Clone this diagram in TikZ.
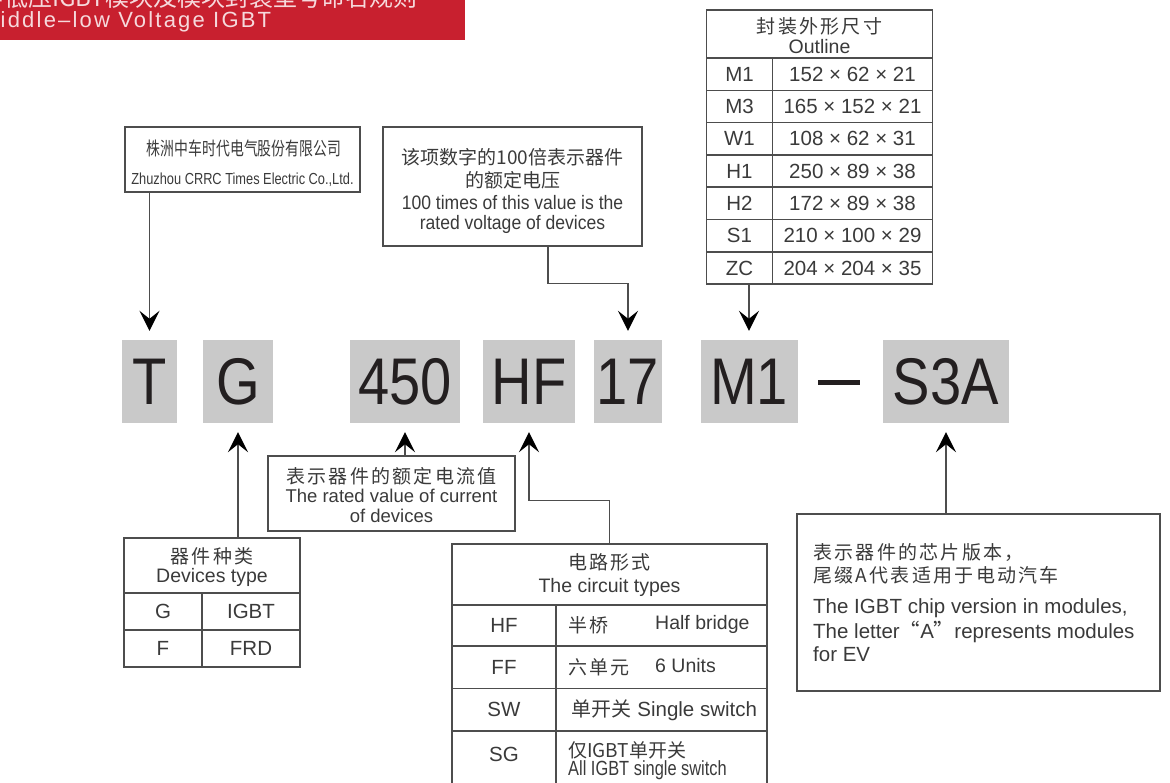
\documentclass[tikz,border=0pt]{standalone}
\usepackage{fontspec}
\setmainfont{Liberation Sans}
\newfontfamily\cjk{Noto Sans CJK SC}
\newfontfamily\cjknarrow[FakeStretch=0.75]{Noto Sans CJK SC}
\newfontfamily\cjksp[LetterSpace=12]{Noto Sans CJK SC}
\newfontfamily\narrowf[FakeStretch=0.8]{Liberation Sans}
\newfontfamily\semif[FakeStretch=0.9]{Liberation Sans}
\newfontfamily\codef[FakeStretch=0.85]{Liberation Sans}
\newfontfamily\bannerf[LetterSpace=10]{Liberation Sans}
\newfontfamily\bannercjk{Noto Sans CJK SC}
\newcommand\fsz[1]{\fontsize{#1}{#1}\selectfont}
\usetikzlibrary{arrows.meta}
\definecolor{bannerred}{HTML}{C8202F}
\definecolor{bannertxt}{HTML}{F6D9DC}
\definecolor{codegray}{HTML}{C9C9C9}
\definecolor{linec}{HTML}{4D4D4D}
\definecolor{txt}{HTML}{3A3A3A}
\definecolor{codetxt}{HTML}{231F20}
\begin{document}
\begin{tikzpicture}[x=1pt,y=-1pt,
  cell/.style={draw=linec, line width=1.5pt, inner sep=0pt, text=txt, align=center},
  lbl/.style={inner sep=0pt, text=txt, align=center},
  codebox/.style={fill=codegray, text=codetxt, inner sep=0pt, font=\codef\fsz{66}, minimum height=83pt},
  arr/.style={draw=linec, line width=1.5pt, shorten >=9pt,
    -{Stealth[length=20pt, width=20pt, inset=8pt, color=black]}},
  rowf/.style={font=\fsz{20.5}},
  headcn/.style={lbl, font=\cjksp\fsz{19}},
  headen/.style={lbl, font=\fsz{19.5}}]
\useasboundingbox (0,0) rectangle (1170,783);
\clip (0,0) rectangle (1170,783);

% banner
\node[fill=bannerred, minimum width=465pt, minimum height=40pt, inner sep=0pt, anchor=north west] (banner) at (0,0) {};
\node[inner sep=0pt, anchor=base west, text=bannertxt, font=\bannercjk\fsz{24}] (bt1) at (-20,7) {中低压IGBT模块及模块封装型号命名规则};
\node[inner sep=0pt, anchor=base west, text=bannertxt, font=\bannerf\fsz{22}] (bt2) at (-20,28) {Middle–low Voltage IGBT};

% code boxes
\node[codebox, minimum width=55pt] (T) at (149.5,381.5) {T};
\node[codebox, minimum width=70pt] (G) at (238,381.5) {G};
\node[codebox, minimum width=110pt] (n450) at (405,381.5) {450};
\node[codebox, minimum width=92pt] (HF) at (529,381.5) {HF};
\node[codebox, minimum width=68pt] (n17) at (628,381.5) {17};
\node[codebox, minimum width=97pt] (M1) at (749,381.5) {M1};
\node[fill=codetxt, minimum width=42pt, minimum height=5pt, inner sep=0pt] (dash) at (839,383) {};
\node[codebox, minimum width=126pt] (S3A) at (946,381.5) {S3A};

% company box
\node[cell, minimum width=235pt, minimum height=65pt] (comp) at (242.5,159.5) {};
\node[lbl, font=\cjknarrow\fsz{18.5}] (compcn) at (244,148) {株洲中车时代电气股份有限公司};
\node[lbl, font=\narrowf\fsz{16}] (compen) at (242.5,180) {Zhuzhou CRRC Times Electric Co.,Ltd.};
\draw[arr] (comp.south -| T.north) -- (T.north);

% voltage box
\node[cell, minimum width=259pt, minimum height=119pt] (volt) at (512.5,186.5) {};
\node[lbl, font=\cjk\fsz{19}] (voltcn1) at (512.5,157) {该项数字的100倍表示器件};
\node[lbl, font=\cjk\fsz{19}] (voltcn2) at (512.5,180) {的额定电压};
\node[lbl, font=\semif\fsz{19.5}] (volten1) at (512.5,203) {100 times of this value is the};
\node[lbl, font=\semif\fsz{19.5}] (volten2) at (512.5,224) {rated voltage of devices};
\draw[arr] ([xshift=35.5pt]volt.south) -- ++(0,37) -| (n17.north);

% outline table
\node[cell, minimum width=226pt, minimum height=48pt] (oh) at (819.5,34) {};
\node[headcn] (ohcn) at (819.5,26) {封装外形尺寸};
\node[headen] (ohen) at (819.5,46.5) {Outline};
\foreach \c/\d [count=\i from 0] in {M1/152 × 62 × 21, M3/165 × 152 × 21, W1/108 × 62 × 31, H1/250 × 89 × 38, H2/172 × 89 × 38, S1/210 × 100 × 29, ZC/204 × 204 × 35}{
  \pgfmathsetmacro\yc{58+32.3*(\i+0.5)}
  \node[cell, rowf, minimum width=66pt, minimum height=32.3pt] (oc\i) at (739.5,\yc) {\c};
  \node[cell, rowf, minimum width=160pt, minimum height=32.3pt] (od\i) at (852.5,\yc) {\d};
}
\draw[arr] (oc6.south -| M1.north) -- (M1.north);

% devices type table
\node[cell, minimum width=176pt, minimum height=55pt] (dh) at (212,565.5) {};
\node[headcn] (dhcn) at (212,556) {器件种类};
\node[headen] (dhen) at (212,577) {Devices type};
\node[cell, rowf, minimum width=78pt, minimum height=37pt] (dg) at (163,611.5) {G};
\node[cell, rowf, minimum width=98pt, minimum height=37pt] (dgi) at (251,611.5) {IGBT};
\node[cell, rowf, minimum width=78pt, minimum height=37pt] (df) at (163,648.5) {F};
\node[cell, rowf, minimum width=98pt, minimum height=37pt] (dfr) at (251,648.5) {FRD};
\draw[arr] (dh.north -| G.south) -- (G.south);

% current box
\node[cell, minimum width=247pt, minimum height=75pt] (cur) at (391.5,493.5) {};
\node[headcn] (curcn) at (391.5,476) {表示器件的额定电流值};
\node[lbl, font=\fsz{18.5}] (curen1) at (391.5,496) {The rated value of current};
\node[lbl, font=\fsz{18.5}] (curen2) at (391.5,516) {of devices};
\draw[arr] (cur.north -| n450.south) -- (n450.south);

% circuit types table
\node[cell, minimum width=315pt, minimum height=61pt] (ch) at (609.5,574.5) {};
\node[headcn] (chcn) at (609.5,562) {电路形式};
\node[headen] (chen) at (609.5,587) {The circuit types};
\node[cell, rowf, minimum width=104pt, minimum height=41pt] (chf) at (504,625.5) {HF};
\node[cell, minimum width=211pt, minimum height=41pt] (chfd) at (661.5,625.5) {};
\node[cell, rowf, minimum width=104pt, minimum height=42.5pt] (cff) at (504,667.25) {FF};
\node[cell, minimum width=211pt, minimum height=42.5pt] (cffd) at (661.5,667.25) {};
\node[cell, rowf, minimum width=104pt, minimum height=42.5pt] (csw) at (504,709.75) {SW};
\node[cell, minimum width=211pt, minimum height=42.5pt] (cswd) at (661.5,709.75) {};
\node[cell, minimum width=104pt, minimum height=69pt] (csg) at (504,765.5) {};
\node[cell, minimum width=211pt, minimum height=69pt] (csgd) at (661.5,765.5) {};
\node[lbl, font=\fsz{20.5}] (csgl) at (504,754) {SG};
\node[lbl, anchor=west, font=\cjksp\fsz{19}] (t1a) at (568,625.5) {半桥};
\node[lbl, anchor=west, font=\fsz{19.5}] (t1b) at (655,624) {Half bridge};
\node[lbl, anchor=west, font=\cjksp\fsz{19}] (t2a) at (568,667) {六单元};
\node[lbl, anchor=west, font=\fsz{19.5}] (t2b) at (655,666) {6 Units};
\node[lbl, anchor=west, font=\fsz{20.5}] (t3) at (567,710) {{\cjk\fsz{20} 单开关} Single switch};
\node[lbl, anchor=west, font=\cjk\fsz{19}] (t4a) at (568,750) {仅IGBT单开关};
\node[lbl, anchor=west, font=\narrowf\fsz{20.5}] (t4b) at (568,770) {All IGBT single switch};
\draw[arr] (ch.north) -- ++(0,-43) -| (HF.south);

% S3A description box
\node[cell, minimum width=363pt, minimum height=177pt] (sd) at (978.5,602.5) {};
\node[lbl, anchor=west, font=\cjksp\fsz{19}] (sd1) at (813,552) {表示器件的芯片版本，};
\node[lbl, anchor=west, font=\cjksp\fsz{19}] (sd2) at (813,575) {尾缀A代表适用于电动汽车};
\node[lbl, anchor=west, font=\fsz{20.5}] (sd3) at (813,608) {The IGBT chip version in modules,};
\node[lbl, anchor=west, font=\fsz{20.5}] (sd4) at (813,632) {The letter{\cjk “}A{\cjk ”}represents modules};
\node[lbl, anchor=west, font=\fsz{20.5}] (sd5) at (813,654) {for EV};
\draw[arr] (sd.north -| S3A.south) -- (S3A.south);
\end{tikzpicture}
\end{document}
